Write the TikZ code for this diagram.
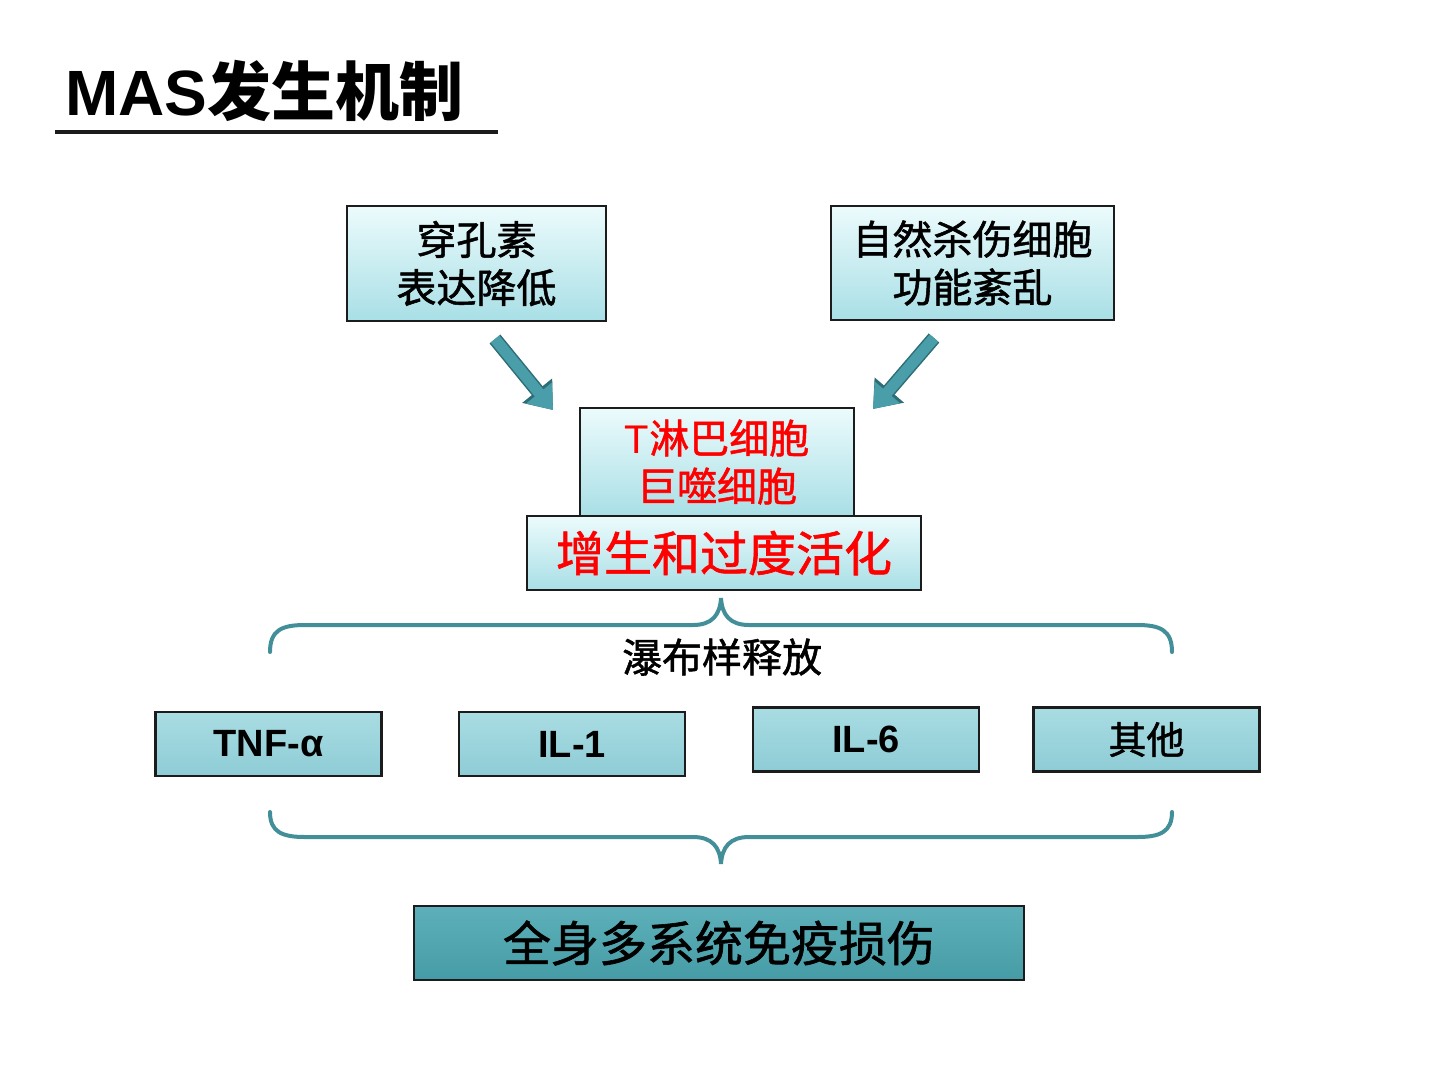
\documentclass[tikz,border=0pt]{standalone}
\usepackage{fontspec}
\setmainfont{Liberation Sans}
\newfontfamily\cjk[FakeBold=1.3]{Noto Sans CJK SC}
\newfontfamily\cjktitle{Noto Sans CJK SC}
\usetikzlibrary{arrows.meta}
\definecolor{paletop}{HTML}{ECFBFC}
\definecolor{palebot}{HTML}{A8DFE6}
\definecolor{cytotop}{HTML}{A9DCE3}
\definecolor{cytobot}{HTML}{8ECCD5}
\definecolor{damtop}{HTML}{5DB0B9}
\definecolor{dambot}{HTML}{469CA6}
\definecolor{braceteal}{HTML}{428F99}
\definecolor{arrowteal}{HTML}{4A9EA9}
\definecolor{arrowedge}{HTML}{2C6D76}
\definecolor{boxline}{HTML}{1C1C1C}
\definecolor{hotred}{HTML}{FF0000}
\tikzset{
  pale/.style={draw=boxline, line width=2.5pt, top color=paletop, bottom color=palebot,
    align=center, inner sep=0pt, font=\cjk\fontsize{40}{48}\selectfont},
  cyto/.style={draw=boxline, line width=2.5pt, top color=cytotop, bottom color=cytobot,
    inner sep=0pt, font=\bfseries\fontsize{38}{40}\selectfont},
  damage/.style={draw=boxline, line width=2.5pt, top color=damtop, bottom color=dambot,
    inner sep=0pt, font=\cjk\fontsize{48}{50}\selectfont},
  brace/.style={draw=braceteal, line width=4pt, line cap=round},
  fatarrow/.style={draw=arrowteal, line width=11pt, -{Triangle[length=22pt,width=32pt]},
    preaction={draw=arrowedge, line width=14pt, -{Triangle[length=25pt,width=37pt]}}}
}
\newcommand{\palebox}[6]{\node[pale, minimum width=#4, minimum height=#5] (#1) at ( #2 , #3 ) {#6};}
\newcommand{\cytobox}[4]{\node[cyto, minimum width=226pt, minimum height=64pt] (#1) at ( #2 , #3 ) {#4};}

\begin{document}
\begin{tikzpicture}[x=1pt,y=-1pt]
    \useasboundingbox (0,0) rectangle (1440,1080);
    % title
    \node[anchor=base west, inner sep=0pt, font=\bfseries\fontsize{64}{70}\selectfont] (title) at (65,115) {MAS{\cjktitle 发生机制}};
    \draw[line width=4pt, draw=boxline] (55,132) -- (498,132);

    % causes
    \palebox{perf}{476.5}{263.5}{259pt}{115pt}{穿孔素\\表达降低}
    \palebox{nk}{972.5}{263}{283pt}{114pt}{自然杀伤细胞\\功能紊乱}

    % arrows
    \coordinate (a1s) at (495,339);
    \coordinate (a1e) at (553,410);
    \coordinate (a2s) at (934,338);
    \coordinate (a2e) at (873,409);
    \draw[fatarrow] (a1s) -- (a1e);
    \draw[fatarrow] (a2s) -- (a2e);

    % cells
    \palebox{cells}{717}{462}{274pt}{108pt}{\color{hotred}{\normalfont T}淋巴细胞\\\color{hotred}巨噬细胞}
    \node[pale, minimum width=394pt, minimum height=74pt, text=hotred,
      font=\cjk\fontsize{48}{50}\selectfont] (act) at (724,553) {增生和过度活化};

    % upper brace
    \draw[brace] (270,652) .. controls (270,630) and (282,625) .. (305,625) -- (693,625)
      .. controls (712,625) and (720,615) .. (721,598)
      .. controls (722,615) and (730,625) .. (749,625) -- (1137,625)
      .. controls (1160,625) and (1172,630) .. (1172,652);
    \node[inner sep=0pt, font=\cjk\fontsize{40}{44}\selectfont] (cascade) at (722,657) {瀑布样释放};

    % cytokines
    \cytobox{tnf}{268.5}{744}{TNF-α}
    \cytobox{il1}{572}{744}{IL-1}
    \cytobox{il6}{866}{739.5}{IL-6}
    \cytobox{other}{1146.5}{739.5}{\cjk\mdseries 其他}

    % lower brace
    \draw[brace] (270,812) .. controls (270,832) and (282,837) .. (305,837) -- (693,837)
      .. controls (712,837) and (720,847) .. (721,864)
      .. controls (722,847) and (730,837) .. (749,837) -- (1137,837)
      .. controls (1160,837) and (1172,832) .. (1172,812);

    % result
    \node[damage, minimum width=610pt, minimum height=74pt] (harm) at (719,943) {全身多系统免疫损伤};
\end{tikzpicture}
\end{document}
